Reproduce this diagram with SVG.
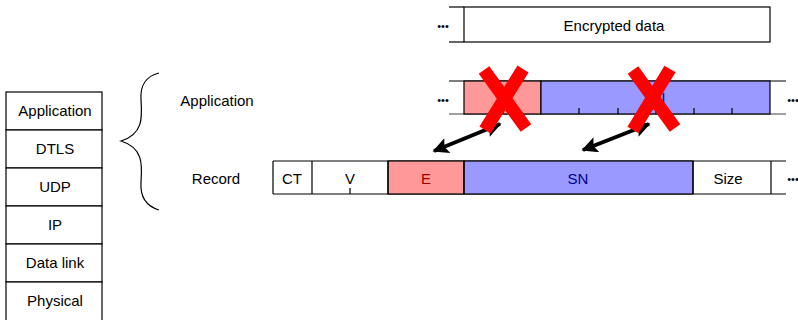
<svg xmlns="http://www.w3.org/2000/svg" width="798" height="320" viewBox="0 0 798 320">
<defs>
<style>
.ln{stroke:#000;stroke-width:1.2;fill:none}
.box{stroke:#000;stroke-width:1.2;fill:#fff}
.t{font-family:"Liberation Sans",Arial,sans-serif;font-size:15px;fill:#000;text-anchor:middle}
.dots{font-family:"Liberation Sans",Arial,sans-serif;font-size:11px;fill:#000;text-anchor:middle}
.red{fill:#ff9999;stroke:#000;stroke-width:1.2}
.blue{fill:#9999ff;stroke:#000;stroke-width:1.2}
.x{stroke:#ff0000;stroke-width:13;stroke-linecap:butt}
.arr{stroke:#000;stroke-width:4;fill:none}
</style>
<marker id="ah" viewBox="0 0 10 10" refX="9" refY="5" markerWidth="5.5" markerHeight="4" orient="auto-start-reverse" markerUnits="strokeWidth">
<path d="M0,0 L10,5 L0,10 L2,5 Z" fill="#000"/>
</marker>
</defs>
<rect width="798" height="320" fill="#fff"/>

<g id="stack">
<rect x="6" y="92" width="96" height="38" class="box"/>
<rect x="6" y="130" width="96" height="38" class="box"/>
<rect x="6" y="168" width="96" height="38" class="box"/>
<rect x="6" y="206" width="96" height="38" class="box"/>
<rect x="6" y="244" width="96" height="38" class="box"/>
<rect x="6" y="282" width="96" height="40" class="box"/>
<text class="t" x="55" y="116">Application</text>
<text class="t" x="55" y="154">DTLS</text>
<text class="t" x="55" y="192">UDP</text>
<text class="t" x="55" y="230">IP</text>
<text class="t" x="55" y="268">Data link</text>
<text class="t" x="55" y="306">Physical</text>
</g>

<g id="brace">
<path class="ln" d="M159,73 C146,76 140,86 141,100 C142,116 144,134 121,141 C144,148 142,166 141,182 C140,196 146,206 159,210"/>
<text class="t" x="217" y="106">Application</text>
<text class="t" x="216" y="184">Record</text>
</g>

<g id="encrypted">
<rect x="464" y="7" width="306" height="35" class="box"/>
<line class="ln" x1="449" y1="7" x2="464" y2="7"/>
<line class="ln" x1="449" y1="42" x2="464" y2="42"/>
<text class="dots" x="443" y="30">•••</text>
<text class="t" x="614" y="31">Encrypted data</text>
</g>

<g id="app-row">
<line class="ln" x1="449" y1="81" x2="786" y2="81"/>
<line x1="449" y1="114" x2="786" y2="114" stroke="#444" stroke-width="1.2"/>
<rect x="464" y="81" width="77" height="33" class="red"/>
<rect x="541" y="81" width="229" height="33" class="blue"/>
<path class="ln" d="M503,108 V114 M579,108 V114 M618,108 V114 M656,108 V114 M694,108 V114 M732,108 V114"/>
<text class="t" x="502" y="103" style="fill:#a00000">E</text>
<text class="t" x="655" y="103" style="fill:#00008b">SN</text>
<text class="dots" x="443" y="104">•••</text>
<text class="dots" x="793" y="104">•••</text>
</g>

<g id="record-row">
<line class="ln" x1="273" y1="161" x2="786" y2="161"/>
<line class="ln" x1="273" y1="194" x2="786" y2="194"/>
<rect x="388" y="161" width="76" height="33" class="red"/>
<rect x="464" y="161" width="229" height="33" class="blue"/>
<path class="ln" d="M273,161 V194 M312,161 V194 M388,161 V194 M464,161 V194 M693,161 V194 M771,161 V194 M350,188 V194"/>
<text class="t" x="292" y="184">CT</text>
<text class="t" x="350" y="184">V</text>
<text class="t" x="426" y="184" style="fill:#a00000">E</text>
<text class="t" x="578" y="184" style="fill:#00008b">SN</text>
<text class="t" x="728" y="184">Size</text>
<text class="dots" x="793" y="183">•••</text>
</g>

<g id="connectors">
<line class="arr" x1="500" y1="124" x2="434" y2="151" marker-start="url(#ah)" marker-end="url(#ah)"/>
<line class="arr" x1="649" y1="124" x2="583" y2="150" marker-start="url(#ah)" marker-end="url(#ah)"/>
</g>

<g id="crosses">
<line class="x" x1="484" y1="70" x2="526" y2="128"/>
<line class="x" x1="523" y1="69" x2="485" y2="130"/>
<line class="x" x1="633" y1="70" x2="675" y2="128"/>
<line class="x" x1="670" y1="69" x2="633" y2="130"/>
</g>
</svg>
